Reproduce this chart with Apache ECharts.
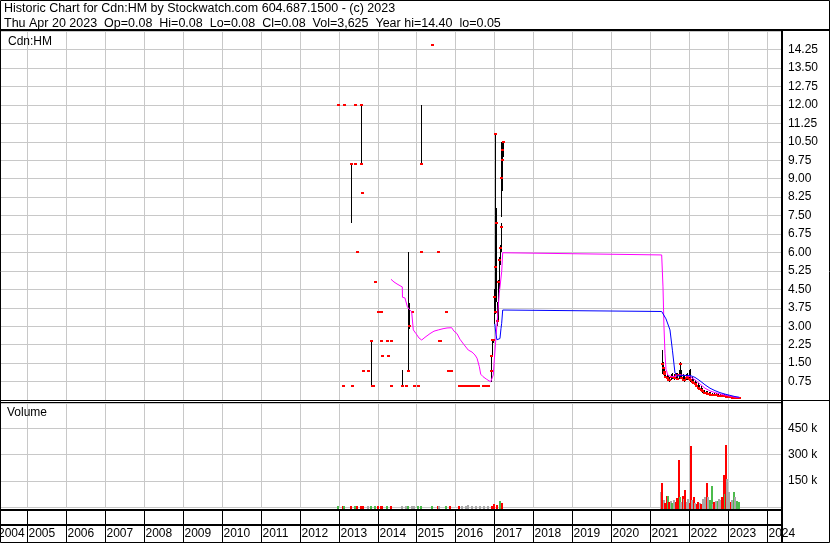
<!DOCTYPE html>
<html><head><meta charset="utf-8">
<script src="https://cdn.jsdelivr.net/npm/echarts@6/dist/echarts.min.js"></script>
<style>html,body{margin:0;padding:0;background:#fff}#c{width:830px;height:543px}</style>
</head><body><div id="c"></div>
<script>
// ---------- data ----------
const titleLine1 = 'Historic Chart for Cdn:HM by Stockwatch.com 604.687.1500 - (c) 2023';
const titleLine2 = 'Thu Apr 20 2023  Op=0.08  Hi=0.08  Lo=0.08  Cl=0.08  Vol=3,625  Year hi=14.40  lo=0.05';
const symbolLabel = 'Cdn:HM';
const volumeLabel = 'Volume';

const yearTicks = [2005,2006,2007,2008,2009,2010,2011,2012,2013,2014,2015,2016,2017,2018,2019,2020,2021,2022,2023,2024];
const yearLabels = ['2004','2005','2006','2007','2008','2009','2010','2011','2012','2013','2014','2015','2016','2017','2018','2019','2020','2021','2022','2023','2024'];

// price bars (decimal year, high, low, close)
const barDate = [
 2012.995,2013.103,2013.136,2013.329,2013.345,2013.415,2013.425,2013.463,2013.566,2013.570,
 2013.599,2013.617,2013.753,2013.838,2013.850,2013.870,2013.933,2014.003,2014.080,2014.090,
 2014.113,2014.234,2014.280,2014.337,2014.345,2014.640,2014.722,2014.794,2014.815,2014.876,
 2014.936,2015.039,2015.108,2015.123,2015.398,2015.553,2015.591,2015.605,2015.751,2015.815,
 2015.840,2015.865,2015.890,2016.092,2016.118,2016.170,2016.221,2016.273,2016.324,2016.376,
 2016.427,2016.478,2016.530,2016.581,2016.710,2016.787,2016.838,2016.907,2016.925,2016.941,
 2016.967,2017.000,2017.010,2017.020,2017.030,2017.044,2017.069,2017.095,2017.121,2017.146,
 2017.165,2017.180,2017.190,2017.203,2017.216,
 2021.303,2021.325,2021.350,2021.375,2021.400,2021.430,2021.465,2021.500,2021.540,2021.580,
 2021.620,2021.660,2021.700,2021.740,2021.770,2021.800,2021.840,2021.880,2021.920,2021.960,
 2022.000,2022.031,2022.070,2022.110,2022.150,2022.190,2022.230,2022.270,2022.310,2022.350,
 2022.390,2022.430,2022.470,2022.510,2022.550,2022.600,2022.650,2022.700,2022.750,2022.800,
 2022.850,2022.900,2022.950,2023.000,2023.050,2023.100,2023.150,2023.200,2023.250,2023.301];
const barHigh = [
 12.0,0.57,12.0,9.63,0.57,12.0,9.6,6.0,12.0,12.0,
 8.43,1.19,1.19,2.44,0.57,0.57,4.81,3.59,3.59,2.41,
 1.8,2.41,1.8,2.41,0.57,1.22,0.57,6.0,3.95,3.59,
 0.57,0.57,6.0,12.0,14.45,6.0,2.41,2.41,3.59,1.19,
 1.19,1.19,1.19,0.57,0.58,0.58,0.58,0.58,0.58,0.58,
 0.58,0.58,0.58,0.58,0.58,0.58,0.58,1.2,1.8,2.44,
 2.44,4.5,10.85,10.5,8.0,7.8,4.0,4.9,5.8,6.3,
 7.2,10.5,10.5,10.4,10.5,
 2.03,1.55,1.35,1.25,1.15,1.05,1.0,0.95,1.05,1.1,
 1.05,1.1,1.1,1.2,1.55,1.2,1.05,1.0,1.05,1.1,
 1.2,1.25,0.95,0.85,0.8,0.75,0.68,0.6,0.55,0.48,
 0.42,0.38,0.35,0.33,0.32,0.3,0.3,0.28,0.27,0.26,
 0.25,0.24,0.22,0.2,0.18,0.16,0.14,0.12,0.1,0.08];
const barLow = [
 12.0,0.57,12.0,7.21,0.57,12.0,9.6,6.0,9.6,12.0,
 8.43,1.19,1.19,0.57,0.57,0.57,4.81,3.59,3.59,2.41,
 1.8,2.41,1.8,2.41,0.57,0.57,0.57,1.18,2.9,3.59,
 0.57,0.57,6.0,9.6,14.45,6.0,2.41,2.41,3.59,1.19,
 1.19,1.19,1.19,0.57,0.58,0.58,0.58,0.58,0.58,0.58,
 0.58,0.58,0.58,0.58,0.58,0.58,0.58,0.74,1.19,1.79,
 2.3,3.1,3.5,5.0,3.5,4.0,3.0,3.2,4.5,5.5,
 6.0,7.45,8.5,9.5,9.9,
 1.05,1.1,1.0,0.95,0.9,0.85,0.78,0.75,0.8,0.85,
 0.82,0.85,0.8,0.85,0.95,0.85,0.78,0.75,0.8,0.82,
 0.8,0.75,0.72,0.65,0.6,0.52,0.45,0.4,0.35,0.3,
 0.27,0.25,0.22,0.2,0.19,0.18,0.17,0.16,0.15,0.14,
 0.13,0.12,0.1,0.09,0.08,0.07,0.06,0.06,0.05,0.08];
const barClose = [
 12.0,0.57,12.0,9.6,0.57,12.0,9.6,6.0,9.6,12.0,
 8.43,1.19,1.19,2.41,0.57,0.57,4.81,3.59,3.59,2.41,
 1.8,2.41,1.8,2.41,0.57,0.57,0.57,1.19,3.0,3.59,
 0.57,0.57,6.0,9.6,14.45,6.0,2.41,2.41,3.59,1.19,
 1.19,1.19,1.19,0.57,0.58,0.58,0.58,0.58,0.58,0.58,
 0.58,0.58,0.58,0.58,0.58,0.58,0.58,1.19,1.79,2.44,
 2.44,4.2,10.83,5.42,3.59,7.21,3.2,4.79,5.69,6.17,
 7.05,9.03,9.76,10.17,10.5,
 1.45,1.3,1.15,1.05,0.95,0.9,0.82,0.8,0.95,0.95,
 0.9,1.0,0.85,1.0,1.45,0.9,0.82,0.8,0.9,0.95,
 0.85,0.8,0.75,0.7,0.65,0.58,0.5,0.45,0.4,0.35,
 0.3,0.28,0.26,0.24,0.22,0.21,0.2,0.19,0.18,0.17,
 0.16,0.15,0.13,0.12,0.11,0.1,0.09,0.08,0.08,0.08];

// moving averages
const maFastDate = [2014.344,2014.422,2014.499,2014.576,2014.635,2014.640,2014.704,2014.764,2014.808,2014.876,
 2014.918,2014.988,2015.065,2015.134,2015.219,2015.347,2015.450,2015.561,2015.682,2015.785,
 2015.905,2015.964,2016.041,2016.118,2016.221,2016.332,2016.427,2016.504,2016.556,2016.615,
 2016.651,2016.710,2016.805,2016.907,2016.974,2017.000,2017.077,2017.128,2017.190,2017.216,
 2021.303,2021.337,2021.362,2021.388,2021.414,2021.465,2021.568,2021.671,2021.774,2021.903,
 2022.031,2022.160,2022.288,2022.416,2022.545,2022.674,2022.802,2022.931,2023.059,2023.187,2023.301];
const maFastVal = [4.91,4.8,4.72,4.65,4.6,4.18,4.15,3.8,3.7,3.59,
 2.85,2.7,2.52,2.44,2.55,2.7,2.8,2.85,2.9,2.93,
 2.94,2.8,2.7,2.47,2.25,2.03,1.95,1.83,1.7,1.36,
 1.05,0.95,0.84,0.74,1.02,1.63,3.25,4.34,5.22,5.99,
 5.9,4.6,3.0,1.9,1.25,1.0,0.95,0.97,1.02,1.0,
 0.95,0.82,0.65,0.48,0.37,0.3,0.25,0.2,0.16,0.12,0.1];
const maSlowDate = [2017.013,2017.044,2017.069,2017.103,2017.146,2017.172,2017.190,2017.216,
 2021.303,2021.414,2021.517,2021.581,2021.645,2021.722,2021.903,2022.031,2022.160,2022.288,
 2022.416,2022.545,2022.674,2022.802,2022.931,2023.059,2023.187,2023.301];
const maSlowVal = [3.1,2.65,2.45,2.37,2.5,2.9,3.12,3.66,
 3.6,3.3,2.85,2.0,1.1,0.98,1.0,1.0,0.92,0.78,
 0.62,0.48,0.38,0.3,0.24,0.19,0.14,0.11];

// volume (decimal year, shares, direction u/d/n)
const volDate = [
 2012.995,2013.103,2013.136,2013.329,2013.419,2013.463,2013.566,2013.599,2013.617,2013.753,
 2013.838,2013.933,2014.003,2014.080,2014.113,2014.234,2014.337,2014.640,2014.722,2014.794,
 2014.876,2014.936,2015.039,2015.108,2015.398,2015.553,2015.591,2015.751,2015.861,2016.092,
 2016.170,2016.273,2016.324,2016.427,2016.530,2016.632,2016.735,2016.838,2016.941,2017.005,
 2017.069,2017.150,2017.190,
 2021.285,2021.303,2021.325,2021.350,2021.375,2021.400,2021.430,2021.465,2021.500,2021.540,
 2021.580,2021.620,2021.660,2021.700,2021.748,2021.775,2021.800,2021.840,2021.870,2021.910,
 2021.950,2021.990,2022.031,2022.057,2022.090,2022.130,2022.160,2022.200,2022.240,2022.280,
 2022.320,2022.370,2022.416,2022.468,2022.500,2022.540,2022.584,2022.620,2022.660,2022.700,
 2022.740,2022.780,2022.820,2022.860,2022.905,2022.930,2022.956,2022.990,2023.033,2023.080,
 2023.120,2023.162,2023.200,2023.250,2023.301];
const volValue = [
 4000,6000,4000,5000,4000,5000,6000,5000,4000,5000,
 6000,5000,6000,5000,4000,5000,6000,5000,4000,6000,
 5000,4000,5000,6000,4000,5000,4000,5000,4000,6000,
 5000,6000,10000,5000,6000,5000,6000,5000,8000,15000,
 10000,34000,25000,
 84000,135000,30000,25000,38000,22000,61000,61000,30000,35000,
 25000,40000,28000,49000,270000,55000,30000,61000,45000,95000,
 30000,45000,25000,350000,40000,55000,25000,20000,30000,25000,
 20000,45000,55000,135000,60000,40000,121000,20000,30000,35000,
 35000,45000,40000,60000,184000,75000,357000,158000,84000,30000,
 40000,84000,55000,35000,30000];
const volDir = [
 'u','d','u','d','u','d','d','d','d','n',
 'u','u','d','d','d','u','d','n','n','u',
 'n','n','u','u','u','d','n','u','d','d',
 'n','n','n','n','n','n','n','n','d','d',
 'd','u','d',
 'n','d','d','u','n','d','d','u','d','n',
 'u','n','d','d','d','u','n','d','n','d',
 'n','n','d','d','n','d','n','d','d','n',
 'd','n','n','d','n','u','u','n','d','n',
 'u','n','n','d','d','u','d','n','n','d',
 'n','u','n','u','u'];

// ---------- chart ----------
const XMIN = 2004.2931, XMAX = 2024.3963;
const FONT = '12px "Liberation Sans", Arial, sans-serif';
const TFONT = '12.5px "Liberation Sans", Arial, sans-serif';
const GRIDC = '#c8c8c8';
const DIRCOL = {u:'#4cbb4c', d:'#ff0000', n:'#a8a8a8'};

function vGrid(params, api){
  const cs = params.coordSys;
  const p = api.coord([api.value(0), 0]);
  const x = Math.round(p[0]) + 0.5;
  return {type:'line', shape:{x1:x,y1:cs.y,x2:x,y2:cs.y+cs.height}, style:{stroke:GRIDC, lineWidth:1}};
}
function stripItem(params, api){
  const cs = params.coordSys;
  const p = api.coord([api.value(0), 0.5]);
  const x = Math.round(p[0]) + 0.5;
  const ch = [];
  if (p[0] >= cs.x) ch.push({type:'line', shape:{x1:x,y1:cs.y,x2:x,y2:cs.y+cs.height}, style:{stroke:'#000',lineWidth:1}});
  ch.push({type:'text', x: Math.max(x + 1, -2), y: cs.y + 23,
    style:{text: yearLabels[params.dataIndex], fill:'#000', font: FONT, align:'left', verticalAlign:'middle'}});
  return {type:'group', children: ch};
}
function rangeItem(params, api){
  const d = api.value(0), h = api.value(1), l = api.value(2);
  if (!(h > l)) return {type:'group', children:[]};
  const a = api.coord([d,h]), b = api.coord([d,l]);
  const x = Math.round(a[0]) + 0.5;
  return {type:'line', shape:{x1:x, y1:Math.round(a[1]), x2:x, y2:Math.round(b[1])}, style:{stroke:'#000', lineWidth:1}};
}
function closeItem(params, api){
  const c = api.coord([api.value(0), api.value(3)]);
  const x = Math.round(c[0]);
  return {type:'rect', shape:{x:x-1, y:Math.round(c[1])-1, width:3, height:2}, style:{fill:'#ff0000'}};
}
function volItem(params, api){
  const d = api.value(0), v = api.value(1);
  const a = api.coord([d, v]), b = api.coord([d, 0]);
  const x = Math.round(a[0]);
  const top = Math.round(a[1]);
  return {type:'rect', shape:{x:x-1, y:top, width:2, height: Math.round(b[1]) - top + 2},
    style:{fill: DIRCOL[volDir[params.dataIndex]]}};
}

const chart = echarts.init(document.getElementById('c'));
const xa = i => ({type:'value', gridIndex:i, min:XMIN, max:XMAX, show:false});
const lbl = {margin:6, color:'#000', fontSize:12, fontFamily:'"Liberation Sans", Arial, sans-serif'};

const line = (x1,y1,x2,y2,w) => ({type:'line', z:100, shape:{x1,y1,x2,y2}, style:{stroke:'#000', lineWidth:w}});
const txt = (x,y,t,f) => ({type:'text', z:100, x, y, style:{text:t, fill:'#000', font:f || FONT, align:'left', verticalAlign:'middle'}});

chart.setOption({
  animation:false,
  backgroundColor:'#fff',
  grid:[
    {left:0, top:30, width:782, height:370},
    {left:0, top:403, width:782, height:104},
    {left:0, top:511, width:782, height:32}
  ],
  xAxis:[xa(0), xa(1), xa(2)],
  yAxis:[
    {type:'value', gridIndex:0, position:'right', min:0, max:15.05, interval:0.75,
     axisLine:{show:false}, axisTick:{show:false},
     splitLine:{show:true, lineStyle:{color:GRIDC, width:1}},
     axisLabel:Object.assign({}, lbl, {formatter: v => (v > 0.5 && v < 14.5) ? v.toFixed(2) : ''})},
    {type:'value', gridIndex:1, position:'right', min:0, max:596000, interval:150000,
     axisLine:{show:false}, axisTick:{show:false},
     splitLine:{show:true, lineStyle:{color:GRIDC, width:1}},
     axisLabel:Object.assign({}, lbl, {formatter: v => (v > 0 && v < 500000) ? (v/1000) + ' k' : ''})},
    {type:'value', gridIndex:2, min:0, max:1, show:false}
  ],
  series:[
    {type:'custom', xAxisIndex:0, yAxisIndex:0, z:1, silent:true, renderItem:vGrid, data: yearTicks.map(y=>[y,0])},
    {type:'custom', xAxisIndex:1, yAxisIndex:1, z:1, silent:true, renderItem:vGrid, data: yearTicks.map(y=>[y,0])},
    {type:'custom', xAxisIndex:2, yAxisIndex:2, z:1, silent:true, renderItem:stripItem, data: yearLabels.map(s=>[Number(s),0.5])},
    {type:'custom', xAxisIndex:0, yAxisIndex:0, z:3, renderItem:rangeItem, encode:{x:0, y:[1,2,3]},
     data: barDate.map((d,i)=>[d, barHigh[i], barLow[i], barClose[i]])},
    {type:'custom', xAxisIndex:0, yAxisIndex:0, z:4, renderItem:closeItem, encode:{x:0, y:[1,2,3]},
     data: barDate.map((d,i)=>[d, barHigh[i], barLow[i], barClose[i]])},
    {type:'line', xAxisIndex:0, yAxisIndex:0, z:5, symbol:'none', lineStyle:{color:'#ff00ff', width:1},
     data: maFastDate.map((d,i)=>[d, maFastVal[i]])},
    {type:'line', xAxisIndex:0, yAxisIndex:0, z:5, symbol:'none', lineStyle:{color:'#0000ff', width:1},
     data: maSlowDate.map((d,i)=>[d, maSlowVal[i]])},
    {type:'custom', xAxisIndex:1, yAxisIndex:1, z:3, renderItem:volItem, encode:{x:0, y:1},
     data: volDate.map((d,i)=>[d, volValue[i]])}
  ],
  graphic:[
    {type:'rect', z:100, shape:{x:0.5, y:0.5, width:829, height:542}, style:{fill:'transparent', stroke:'#000', lineWidth:1}},
    line(0,30,830,30,2),
    line(782,30,782,543,2),
    line(0,400.5,830,400.5,1),
    line(0,402.5,782,402.5,1),
    line(0,510,782,510,2),
    line(0,525,782,525,2),
    txt(4,8.5,titleLine1,TFONT),
    txt(4,23.5,titleLine2,TFONT),
    txt(8,42,symbolLabel),
    txt(7,413,volumeLabel)
  ]
});
</script>
</body></html>
